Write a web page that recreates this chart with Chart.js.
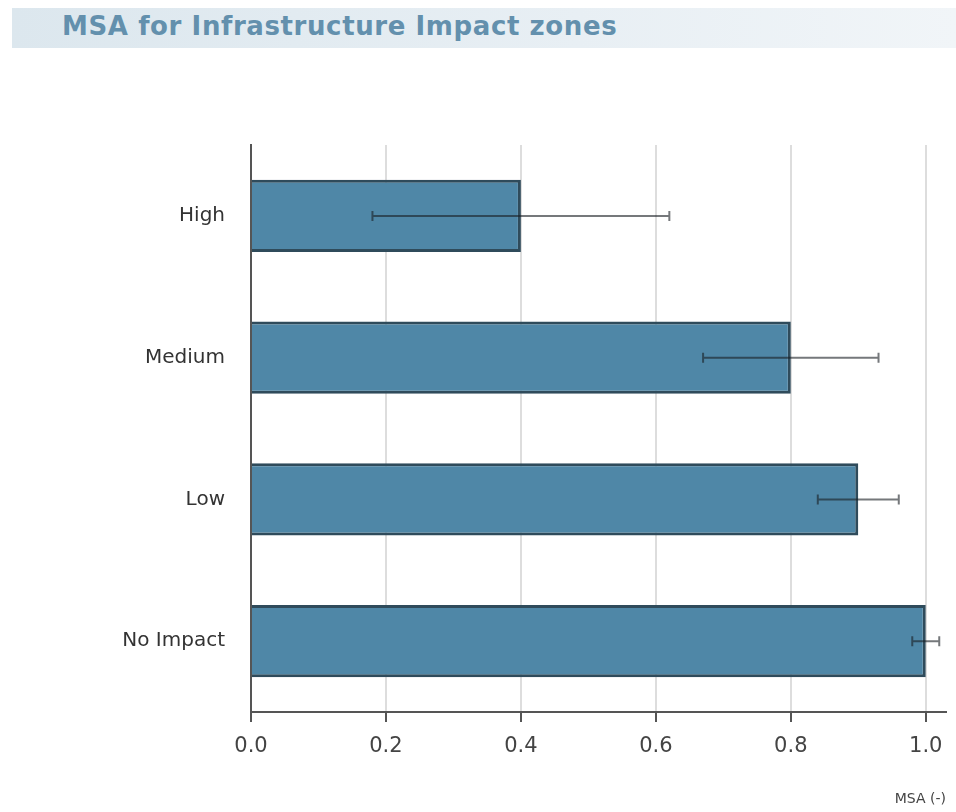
<!DOCTYPE html>
<html>
<head>
<meta charset="utf-8">
<script src="https://cdn.jsdelivr.net/npm/chart.js@4/dist/chart.umd.min.js"></script>
<style>
  html, body { margin: 0; padding: 0; background: #fff; }
  #wrap { position: relative; width: 956px; height: 812px; }
  #banner {
    position: absolute; left: 12px; top: 8px; width: 944px; height: 40px;
    background: linear-gradient(to right, #dce7ee, #e8eff4 60%, #f1f5f8);
  }
  #banner span {
    position: absolute; left: 50px; top: 3px; letter-spacing: 0.6px;
    font: bold 26px "DejaVu Sans", sans-serif; color: #6390ad;
  }
  canvas { position: absolute; left: 0; top: 0; }
</style>
</head>
<body>
<div id="wrap">
  <div id="banner"><span>MSA for Infrastructure Impact zones</span></div>
  <canvas id="msaChart" width="956" height="812"></canvas>
</div>
<script>
// zones and MSA values, with error bar bounds
const zones = ['High', 'Medium', 'Low', 'No Impact'];
const msa = [0.40, 0.80, 0.90, 1.00];
const errLow = [0.18, 0.67, 0.84, 0.98];
const errHigh = [0.62, 0.93, 0.96, 1.02];
const xTicks = [0, 0.2, 0.4, 0.6, 0.8, 1.0];

// draw the error bars on top of the bars
const errorBars = {
  id: 'errorBars',
  afterDatasetsDraw(chart) {
    const ctx = chart.ctx;
    const x = chart.scales.x;
    const y = chart.scales.y;
    ctx.save();
    ctx.strokeStyle = 'rgba(25, 30, 35, 0.6)';
    ctx.lineWidth = 2;
    zones.forEach((z, i) => {
      const x1 = x.getPixelForValue(errLow[i]);
      const x2 = x.getPixelForValue(errHigh[i]);
      const yc = y.getPixelForValue(i);
      ctx.beginPath();
      ctx.moveTo(x1, yc); ctx.lineTo(x2, yc);
      ctx.moveTo(x1, yc - 5); ctx.lineTo(x1, yc + 5);
      ctx.moveTo(x2, yc - 5); ctx.lineTo(x2, yc + 5);
      ctx.stroke();
    });
    ctx.restore();
  }
};

new Chart(document.getElementById('msaChart'), {
  type: 'bar',
  data: {
    labels: zones,
    datasets: [{
      data: msa,
      backgroundColor: '#4f87a7',
      borderColor: '#2f4b5b',
      borderWidth: 3,
      categoryPercentage: 1,
      barPercentage: 0.51
    }]
  },
  options: {
    indexAxis: 'y',
    responsive: false,
    animation: false,
    layout: { padding: { top: 145, right: 10, left: 0, bottom: 0 } },
    plugins: { legend: { display: false }, tooltip: { enabled: false } },
    scales: {
      x: {
        min: 0,
        max: 1.03,
        afterBuildTicks: (s) => { s.ticks = xTicks.map(v => ({ value: v })); },
        afterFit: (s) => { s.height = 100; },
        border: { color: '#555', width: 2 },
        grid: { color: '#dddddd', lineWidth: 2, tickColor: '#555', tickLength: 10 },
        ticks: {
          padding: 12,
          color: '#444',
          font: { family: 'DejaVu Sans', size: 21 },
          callback: (v) => Number(v).toFixed(1)
        },
        title: {
          display: true,
          text: 'MSA (-)',
          align: 'end',
          color: '#444',
          font: { family: 'DejaVu Sans', size: 14 },
          padding: { top: 8 }
        }
      },
      y: {
        afterFit: (s) => { s.width = 251; },
        border: { color: '#555', width: 2 },
        grid: { display: false },
        ticks: {
          padding: 18,
          color: '#333',
          font: { family: 'DejaVu Sans', size: 20 }
        }
      }
    }
  },
  plugins: [errorBars]
});
</script>
</body>
</html>
